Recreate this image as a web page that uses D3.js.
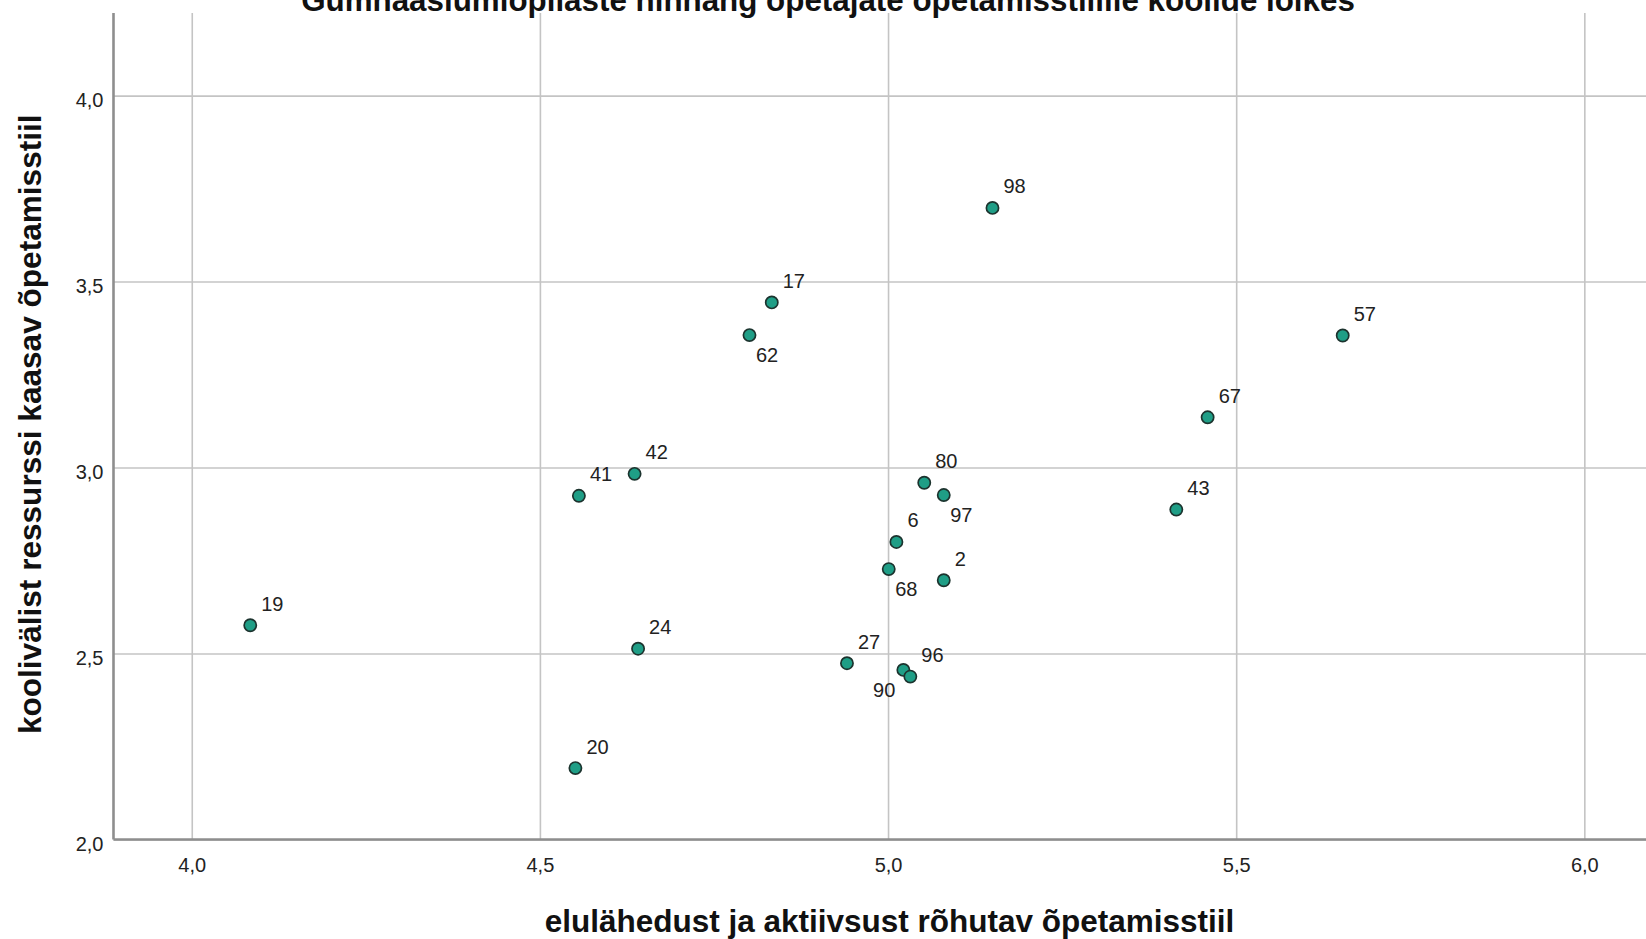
<!DOCTYPE html>
<html>
<head>
<meta charset="utf-8">
<script src="https://cdn.jsdelivr.net/npm/d3@7"></script>
<style>
  html, body { margin: 0; padding: 0; background: #fff; }
  svg { display: block; font-family: Arial, "Liberation Sans", sans-serif; }
</style>
</head>
<body>
<svg id="chart" width="1646" height="939"></svg>
<script>
// ---- data ----
const chartTitle = "Gümnaasiumiõpilaste hinnang õpetajate õpetamisstiilile koolide lõikes";
const xTitle = "elulähedust ja aktiivsust rõhutav õpetamisstiil";
const yTitle = "koolivälist ressurssi kaasav õpetamisstiil";

const schoolIds = [98, 17, 62, 57, 67, 42, 41, 80, 97, 43, 6, 68, 2, 19, 24, 27, 90, 96, 20];
const xValues  = [5.150, 4.833, 4.801, 5.653, 5.459, 4.636, 4.556, 5.052, 5.080, 5.414, 5.012, 5.001, 5.080, 4.084, 4.641, 4.941, 5.022, 5.032, 4.551];
const yValues  = [3.698, 3.444, 3.356, 3.355, 3.135, 2.983, 2.924, 2.959, 2.926, 2.887, 2.800, 2.727, 2.697, 2.576, 2.513, 2.474, 2.456, 2.438, 2.192];
// label placement relative to the marker: ur = upper right, lr = lower right, ll = lower left
const labelSide = ["ur", "ur", "lr", "ur", "ur", "ur", "ur", "ur", "lr", "ur", "ur", "lr", "ur", "ur", "ur", "ur", "ll", "ur", "ur"];

const xTicks = [4.0, 4.5, 5.0, 5.5, 6.0];
const yTicks = [2.0, 2.5, 3.0, 3.5, 4.0];
const xDomain = [3.8876, 6.1173];
const yDomain = [2.0, 4.222];

// ---- layout ----
const svg = d3.select("#chart");
const plot = { left: 113.5, right: 1666, top: 13, bottom: 839.5 };

const x = d3.scaleLinear().domain(xDomain).range([plot.left, plot.right]);
const y = d3.scaleLinear().domain(yDomain).range([plot.bottom, plot.top]);

const fmt = d3.formatLocale({ decimal: ",", thousands: " ", grouping: [3], currency: ["", ""] }).format(".1f");

// gridlines + tick labels
const gx = svg.append("g")
  .attr("transform", `translate(0,${plot.bottom})`)
  .call(d3.axisBottom(x).tickValues(xTicks).tickSize(-(plot.bottom - plot.top)).tickFormat(fmt).tickPadding(18));
gx.select(".domain").remove();
gx.selectAll(".tick line").attr("stroke", "#c4c4c4").attr("stroke-width", 1.6);
gx.selectAll(".tick text").attr("font-size", 20).attr("fill", "#222").attr("dy", "0.71em")
  .attr("font-family", "Arial, 'Liberation Sans', sans-serif");

const gy = svg.append("g")
  .attr("transform", `translate(${plot.left},0)`)
  .call(d3.axisLeft(y).tickValues(yTicks).tickSize(-(plot.right - plot.left)).tickFormat(fmt).tickPadding(10));
gy.select(".domain").remove();
gy.selectAll(".tick line").attr("stroke", "#c4c4c4").attr("stroke-width", 1.6);
gy.selectAll(".tick text").attr("font-size", 20).attr("fill", "#222").attr("dy", "0.56em")
  .attr("font-family", "Arial, 'Liberation Sans', sans-serif");

// axis lines
svg.append("line").attr("x1", plot.left).attr("x2", plot.right).attr("y1", plot.bottom).attr("y2", plot.bottom)
  .attr("stroke", "#8e8e8e").attr("stroke-width", 2.6);
svg.append("line").attr("x1", plot.left).attr("x2", plot.left).attr("y1", plot.top).attr("y2", plot.bottom)
  .attr("stroke", "#8e8e8e").attr("stroke-width", 2.6);

// points
const pts = schoolIds.map((id, i) => ({ id, xv: xValues[i], yv: yValues[i], side: labelSide[i] }));

svg.append("g").selectAll("circle").data(pts).join("circle")
  .attr("cx", d => x(d.xv)).attr("cy", d => y(d.yv)).attr("r", 6.1)
  .attr("fill", "#1f9e86").attr("stroke", "#1c332e").attr("stroke-width", 1.7);

svg.append("g").selectAll("text").data(pts).join("text")
  .attr("x", d => x(d.xv) + (d.side === "ur" ? 11 : d.side === "lr" ? 6.5 : -8))
  .attr("y", d => y(d.yv) + (d.side === "ur" ? -14.5 : 27))
  .attr("text-anchor", d => d.side === "ll" ? "end" : "start")
  .attr("font-size", 20).attr("fill", "#222")
  .text(d => d.id);

// titles fitted to measured widths
function fitText(sel, targetWidth) {
  sel.attr("font-size", 100);
  const w = sel.node().getComputedTextLength();
  sel.attr("font-size", 100 * targetWidth / w);
}

const t = svg.append("text").attr("x", 828).attr("y", 10.5).attr("text-anchor", "middle")
  .attr("font-weight", "bold").attr("fill", "#111").text(chartTitle);
fitText(t, 1054);

const tx = svg.append("text").attr("x", 889.5).attr("y", 931.5).attr("text-anchor", "middle")
  .attr("font-weight", "bold").attr("fill", "#111").text(xTitle);
fitText(tx, 690);

const ty = svg.append("text").attr("transform", `translate(41,${(plot.top + plot.bottom) / 2 - 2}) rotate(-90)`)
  .attr("text-anchor", "middle").attr("font-weight", "bold").attr("fill", "#111").text(yTitle);
fitText(ty, 620);
</script>
</body>
</html>
